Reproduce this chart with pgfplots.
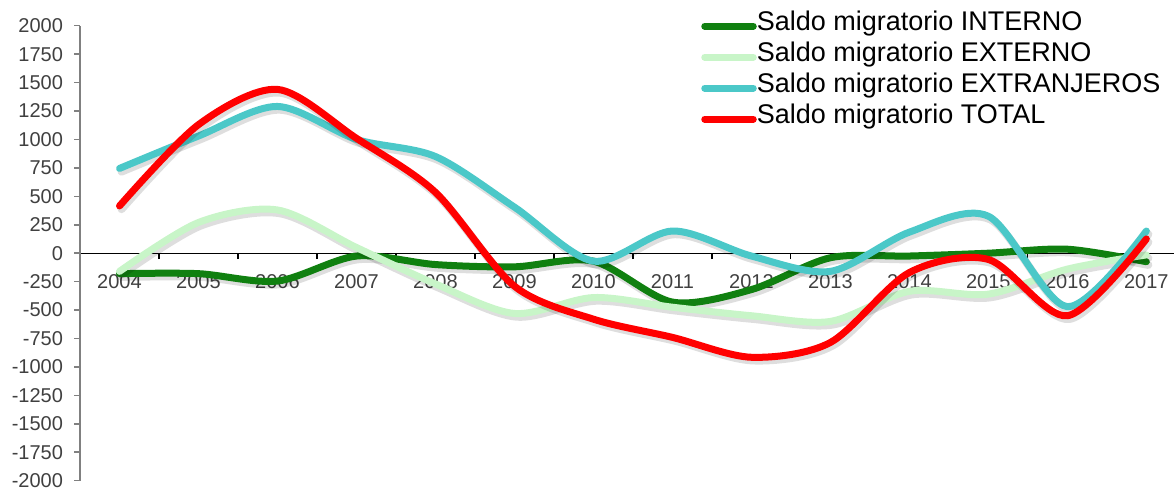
\documentclass[border=0pt]{standalone}
\usepackage{fontspec}
\setmainfont{Liberation Sans}
\usepackage{pgfplots}
\usepackage{pgfplotstable}
\pgfplotsset{compat=1.18}
\definecolor{cInt}{RGB}{16,128,16}
\definecolor{cExt}{RGB}{200,245,200}
\definecolor{cExj}{RGB}{75,200,200}
\definecolor{cTot}{RGB}{255,0,0}
\definecolor{tickgray}{RGB}{64,64,64}
\definecolor{axgray}{RGB}{128,128,128}
\pgfplotstableread{
year int ext exj tot
2004 -180 -160 745 415
2005 -180 270 1030 1130
2006 -245 380 1290 1440
2007 -25 50 1000 1010
2008 -100 -270 850 535
2009 -120 -530 405 -290
2010 -70 -390 -70 -580
2011 -430 -475 195 -740
2012 -320 -550 -25 -915
2013 -40 -600 -160 -785
2014 -25 -335 185 -170
2015 0 -360 325 -55
2016 35 -140 -470 -550
2017 -75 -15 195 125
}\datatable
\begin{document}
\begin{tikzpicture}
\begin{axis}[
  at={(40pt,4.65pt)}, anchor=south west,
  scale only axis, width=547pt, height=227.5pt,
  xmin=2003.5, xmax=2017.35, ymin=-2000, ymax=2000,
  axis x line*=middle, axis y line*=left,
  ytick={-2000,-1750,...,2000},
  yticklabel style={font=\fontsize{10}{11}\selectfont, text=tickgray, xshift=-2pt},
  y axis line style={draw=axgray, line width=0.8pt},
  ytick style={draw=axgray, line width=0.8pt},
  ytick align=outside,
  xtick={2004.5,2005.5,...,2016.5}, xticklabels={},
  x axis line style={draw=black, line width=0.6pt},
  xtick style={draw=black, line width=0.6pt},
  xtick align=outside,
  major tick length=3pt,
  extra x ticks={2004,2005,...,2017},
  extra x tick labels={2004,2005,2006,2007,2008,2009,2010,2011,2012,2013,2014,2015,2016,2017},
  extra x tick style={major tick length=0pt, tick style={draw=none},
     xticklabel style={font=\fontsize{10}{11}\selectfont, text=tickgray, yshift=-7pt}},
  /pgf/number format/assume math mode=true,
  /pgf/number format/1000 sep={},
  clip=false,
  legend style={at={(0.5675,1.034)}, anchor=north west, draw=none, fill=none,
     font=\fontsize{13.5}{15.5}\selectfont, row sep=0pt, inner sep=0pt,
     nodes={inner sep=0pt, text height=10pt, text depth=5.5pt},
     cells={anchor=west}},
  legend image code/.code={\draw[#1, line width=3.5pt, line cap=round] (1.75pt,0pt) -- (26pt,0pt);},
  every axis plot/.append style={line width=3.5pt, smooth, tension=0.5, line cap=round, line join=round},
  shadow/.style={black, opacity=0.13, line width=4pt, xshift=1pt, yshift=-1.6pt, forget plot},
]
\addplot[shadow] table[x=year,y=int] {\datatable};
\addplot[cInt] table[x=year,y=int] {\datatable};
\addlegendentry{Saldo migratorio INTERNO}
\addplot[shadow] table[x=year,y=ext] {\datatable};
\addplot[cExt] table[x=year,y=ext] {\datatable};
\addlegendentry{Saldo migratorio EXTERNO}
\addplot[shadow] table[x=year,y=exj] {\datatable};
\addplot[cExj] table[x=year,y=exj] {\datatable};
\addlegendentry{Saldo migratorio EXTRANJEROS}
\addplot[shadow] table[x=year,y=tot] {\datatable};
\addplot[cTot] table[x=year,y=tot] {\datatable};
\addlegendentry{Saldo migratorio TOTAL}
\end{axis}
\pgfresetboundingbox
\path[use as bounding box] (0,0) rectangle (587pt,245pt);
\end{tikzpicture}
\end{document}
